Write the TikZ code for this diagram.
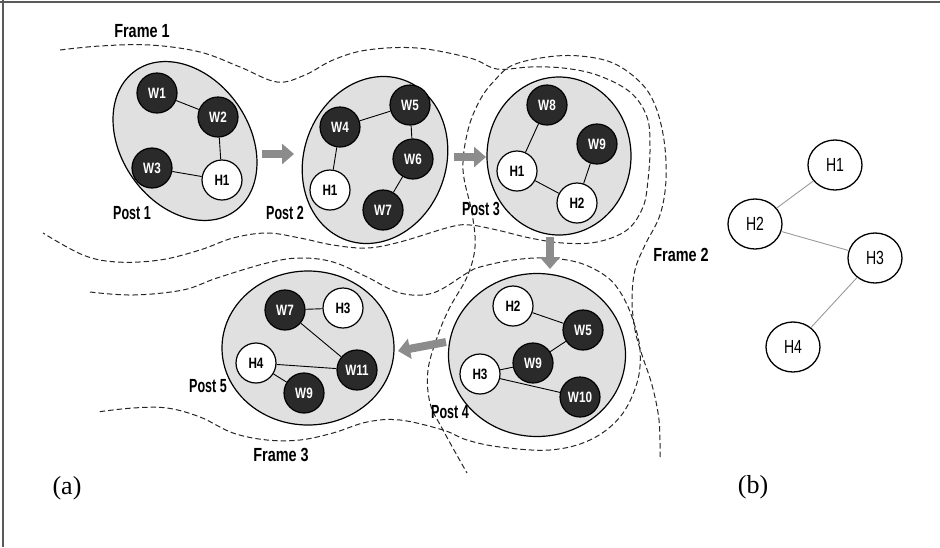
\documentclass[tikz,border=0pt]{standalone}
\usepackage{fontspec}
\setmainfont{Liberation Serif}
\newfontfamily\postfont[FakeStretch=0.66]{Liberation Sans}
\newfontfamily\framefont[FakeStretch=0.76]{Liberation Sans}
\newfontfamily\nodefont[FakeStretch=0.78]{Liberation Sans}
\newfontfamily\hostfont[FakeStretch=0.74]{Liberation Sans}
\usetikzlibrary{arrows.meta,shapes.geometric}

\definecolor{nodedark}{HTML}{2A2A2A}
\definecolor{postgray}{HTML}{E0E0E0}
\definecolor{movegray}{HTML}{8C8C8C}
\definecolor{edgegray}{HTML}{9A9A9A}
\definecolor{rulegray}{HTML}{5A5A5A}

\tikzset{
  post/.style={ellipse, draw=black, line width=1.2pt, fill=postgray, inner sep=0pt},
  worker/.style={circle, minimum size=40pt, inner sep=0pt, draw=black, line width=1.2pt,
    fill=nodedark, text=white, font=\nodefont\bfseries\fontsize{15}{15}\selectfont},
  host/.style={circle, minimum size=40pt, inner sep=0pt, draw=black, line width=1.2pt,
    fill=white, text=black, font=\nodefont\bfseries\fontsize{15}{15}\selectfont},
  link/.style={draw=black, line width=0.9pt},
  move/.style={draw=movegray, line width=8pt, -{Triangle[length=12pt,width=20pt]}},
  framecurve/.style={draw=black!85, line width=1pt, dash pattern=on 5.5pt off 3pt},
  postlabel/.style={font=\postfont\bfseries\fontsize{19}{19}\selectfont, inner sep=0pt},
  framelabel/.style={font=\framefont\bfseries\fontsize{19}{19}\selectfont, inner sep=0pt},
  graphnode/.style={ellipse, minimum width=54pt, minimum height=50pt, inner sep=0pt,
    draw=black, line width=1.3pt, fill=white, font=\hostfont\fontsize{19}{19}\selectfont},
  graphedge/.style={draw=edgegray, line width=0.9pt},
  panel/.style={font=\fontsize{26}{26}\selectfont, inner sep=0pt}
}

\begin{document}
\begin{tikzpicture}[x=1pt,y=-1pt]
\useasboundingbox (0,0) rectangle (940,547);

% page rules
\draw[rulegray, line width=1.6pt] (0,2) -- (940,2);
\draw[rulegray, line width=1.6pt] (3,0) -- (3,547);

% frame boundaries
\draw[framecurve] plot[smooth, tension=0.6] coordinates {
  (60,50) (100,46) (150,45) (200,52) (240,67) (277,82) (305,75) (333,60)
  (367,50) (417,48) (470,58) (497,69) (530,67) (563,68) (597,75) (630,92)
  (647,117) (650,147) (648,180) (643,207) (627,230) (597,242) (563,243)
  (530,238) (497,230) (470,225) (450,227) (400,242) (367,248) (333,245)
  (300,238) (267,233) (233,238) (200,250) (160,260) (117,262) (83,255) (43,233)};
\draw[framecurve] plot[smooth, tension=0.6] coordinates {
  (660,457) (659,420) (652,385) (642,355) (635,330) (632,300) (635,270)
  (645,245) (660,215) (666,180) (664,140) (655,105) (640,82) (613,63)
  (580,56) (547,57) (513,65) (495,80) (480,100) (468,130) (463,170)
  (472,213) (475,247) (467,277) (450,307) (438,335) (428,370) (430,403)
  (443,430) (467,473)};
\draw[framecurve] plot[smooth, tension=0.6] coordinates {
  (90,292) (133,295) (183,290) (217,278) (267,263) (300,258) (333,262)
  (367,277) (400,293) (433,293) (467,273) (480,267) (513,260) (547,258)
  (580,263) (607,277) (622,295) (633,320) (640,350) (637,383) (620,417)
  (590,440) (550,450) (500,447) (467,440) (443,430) (400,420) (367,422)
  (333,433) (300,440) (267,440) (233,433) (200,417) (167,408) (133,408) (97,412)};

% posts
\node[post, minimum width=172pt, minimum height=128pt, rotate=-55] (p1) at (185,141) {};
\node[post, minimum width=170pt, minimum height=142pt, rotate=70] (p2) at (375,160) {};
\node[post, minimum width=144pt, minimum height=158pt] (p3) at (559,156) {};
\node[post, minimum width=177pt, minimum height=163pt] (p4) at (537,355) {};
\node[post, minimum width=172pt, minimum height=154pt] (p5) at (308,348) {};

% Post 1
\node[worker] (a1) at (157,93) {W1};
\node[worker] (a2) at (218,117) {W2};
\node[worker] (a3) at (152,168) {W3};
\node[host]   (ah1) at (222,180) {H1};
\draw[link] (a1) -- (a2);
\draw[link] (a2) -- (ah1);
\draw[link] (a3) -- (ah1);

% Post 2
\node[worker] (b4) at (340,127) {W4};
\node[worker] (b5) at (410,105) {W5};
\node[worker] (b6) at (413,159) {W6};
\node[host]   (bh1) at (330,190) {H1};
\node[worker] (b7) at (383,210) {W7};
\draw[link] (b4) -- (b5);
\draw[link] (b5) -- (b6);
\draw[link] (b6) -- (b7);
\draw[link] (b4) -- (bh1);

% Post 3
\node[worker] (c8) at (547,105) {W8};
\node[worker] (c9) at (597,144) {W9};
\node[host]   (ch1) at (517,171) {H1};
\node[host]   (ch2) at (577,203) {H2};
\draw[link] (c8) -- (ch1);
\draw[link] (ch1) -- (ch2);
\draw[link] (c9) -- (ch2);

% Post 4
\node[host]   (dh2) at (513,306) {H2};
\node[worker] (d5) at (583,330) {W5};
\node[worker] (d9) at (533,363) {W9};
\node[host]   (dh3) at (480,374) {H3};
\node[worker] (d10) at (580,397) {W10};
\draw[link] (dh2) -- (d5);
\draw[link] (d5) -- (d9);
\draw[link] (d9) -- (dh3);
\draw[link] (dh3) -- (d10);

% Post 5
\node[worker] (e7) at (285,310) {W7};
\node[host]   (eh3) at (343,308) {H3};
\node[host]   (eh4) at (256,363) {H4};
\node[worker] (e11) at (357,370) {W11};
\node[worker] (e9) at (304,393) {W9};
\draw[link] (e7) -- (eh3);
\draw[link] (e7) -- (e11);
\draw[link] (eh4) -- (e11);
\draw[link] (eh4) -- (e9);

% movement between posts
\coordinate (m1s) at (262,154);  \coordinate (m1e) at (294,154);
\coordinate (m2s) at (454,157);  \coordinate (m2e) at (486,157);
\coordinate (m3s) at (550,237);  \coordinate (m3e) at (550,269);
\coordinate (m4s) at (446,342);  \coordinate (m4e) at (398,351);
\draw[move] (m1s) -- (m1e);
\draw[move] (m2s) -- (m2e);
\draw[move] (m3s) -- (m3e);
\draw[move] (m4s) -- (m4e);

% labels
\node[framelabel] (f1) at (142,31) {Frame 1};
\node[framelabel] (f2) at (681,255) {Frame 2};
\node[framelabel] (f3) at (281,455) {Frame 3};
\node[postlabel] (l1) at (132,213) {Post 1};
\node[postlabel] (l2) at (285,213) {Post 2};
\node[postlabel] (l3) at (481,209) {Post 3};
\node[postlabel] (l4) at (450,412) {Post 4};
\node[postlabel] (l5) at (208,386) {Post 5};

% host graph
\node[graphnode] (g1) at (835,165) {H1};
\node[graphnode] (g2) at (755,224) {H2};
\node[graphnode] (g3) at (875,258) {H3};
\node[graphnode] (g4) at (793,347) {H4};
\draw[graphedge] (g1) -- (g2);
\draw[graphedge] (g2) -- (g3);
\draw[graphedge] (g3) -- (g4);

% panel tags
\node[panel] (ta) at (67,488) {(a)};
\node[panel] (tb) at (753,487) {(b)};
\end{tikzpicture}
\end{document}
